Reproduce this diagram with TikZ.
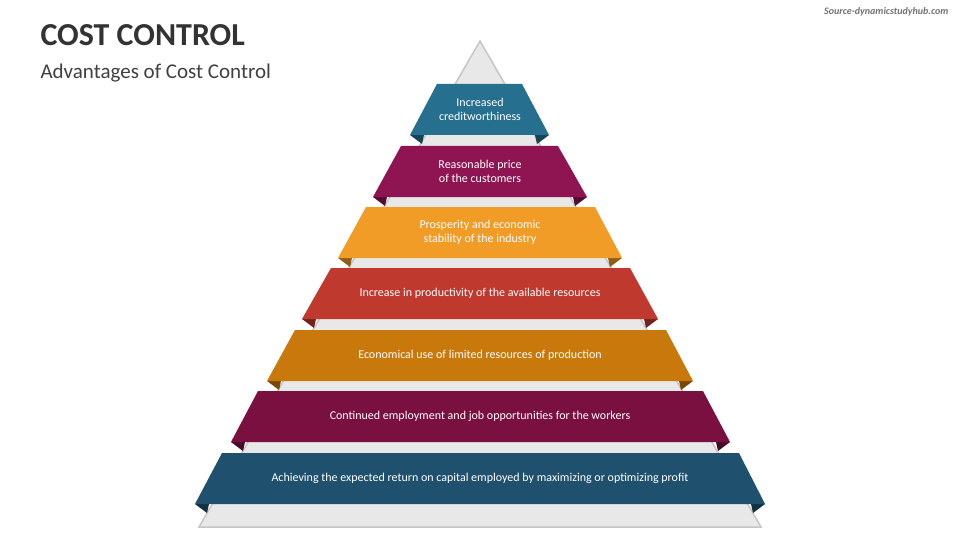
\documentclass[tikz,border=0pt]{standalone}
\usepackage{fontspec}
\setmainfont{Carlito}
\definecolor{cA}{HTML}{276F8F}
\definecolor{cB}{HTML}{8E1552}
\definecolor{cC}{HTML}{F29C28}
\definecolor{cD}{HTML}{C0392E}
\definecolor{cE}{HTML}{C9780C}
\definecolor{cF}{HTML}{7A1040}
\definecolor{cG}{HTML}{1F516E}
\tikzset{bandtext/.style={text=white,font=\fontsize{12}{14.5}\selectfont,align=center}}
\begin{document}
\begin{tikzpicture}[x=1pt,y=-1pt]
\useasboundingbox (0,0) rectangle (960,540);
\node[anchor=west,font=\bfseries\fontsize{32}{36}\selectfont,text=black!80] (title) at (37,35) {COST CONTROL};
\node[anchor=west,font=\fontsize{21}{24}\selectfont,text=black!75] (sub) at (37,73) {Advantages of Cost Control};
\node[anchor=east,font=\bfseries\itshape\fontsize{10}{12}\selectfont,text=black!55] (src) at (952,12) {Source-dynamicstudyhub.com};
\fill[gray!18,draw=gray!45,line width=1.5pt] (480,41) -- (761,527) -- (199,527) -- cycle;
\foreach \yt/\tl/\tr/\bl/\br/\c/\t [count=\i] in {
 84/437/522/410/549/cA/{Increased\\creditworthiness},
 146/401/558/373/587/cB/{Reasonable price\\of the customers},
 207/366/595/338/622/cC/{Prosperity and economic\\stability of the industry},
 268/331/630/302/658/cD/{Increase in productivity of the available resources},
 330/295/666/267/693/cE/{Economical use of limited resources of production},
 391/258/703/231/730/cF/{Continued employment and job opportunities for the workers},
 453/222/739/195/765/cG/{Achieving the expected return on capital employed by maximizing or optimizing profit}}{
 \pgfmathsetmacro\yb{\yt+51}
 \fill[\c!60!black] (\bl,\yb) -- (\bl+14,\yb) -- (\bl+12,\yb+9) -- cycle;
 \fill[\c!60!black] (\br,\yb) -- (\br-14,\yb) -- (\br-12,\yb+9) -- cycle;
 \fill[\c] (\tl,\yt) -- (\tr,\yt) -- (\br,\yb) -- (\bl,\yb) -- cycle;
 \node[bandtext] (b\i) at (480,\yt+25.5) {\t};
}
\end{tikzpicture}
\end{document}
